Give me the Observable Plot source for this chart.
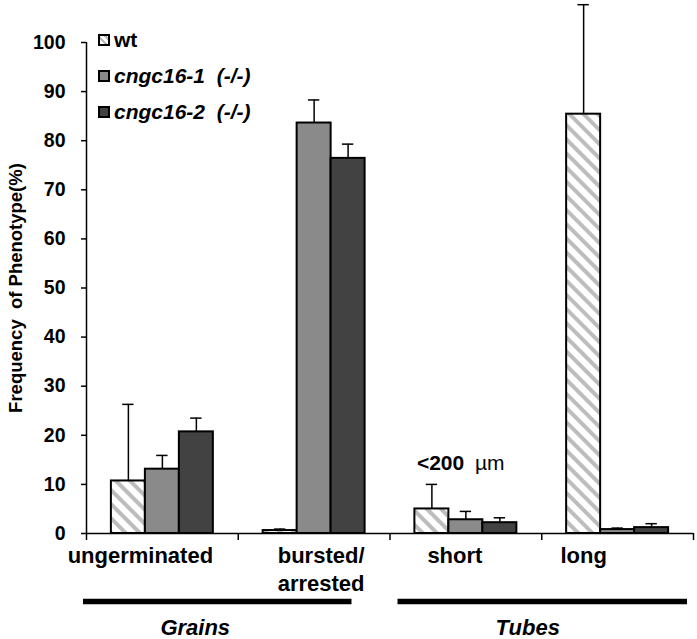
<!DOCTYPE html>
<html><head><meta charset="utf-8">
<script src="https://cdn.jsdelivr.net/npm/d3@7"></script>
<script src="https://cdn.jsdelivr.net/npm/@observablehq/plot@0.6"></script>
<style>
body{margin:0;background:#fff;}
#wrap{position:relative;width:697px;height:639px;font-family:"Liberation Sans",Arial,sans-serif;}
#legend{position:absolute;left:98px;top:22px;}
.row{display:flex;align-items:center;height:36px;font-weight:bold;font-size:21px;color:#000;white-space:pre;}
.sw{width:12px;height:12px;border:2px solid #000;box-sizing:border-box;margin-right:4px;}
</style></head><body><div id="wrap"><div id="legend"></div></div>
<script>
// ---- data ----
const categories = ["ungerminated", "bursted/\narrested", "short", "long"];
const genotypes = ["wt", "cngc16-1", "cngc16-2"];
const genotypeSuffix = ["", "  (-/-)", "  (-/-)"];
const wtValues = [10.7, 0.6, 5.0, 85.4];
const wtErrors = [15.6, 0.3, 5.0, 22.3];
const cngc161Values = [13.1, 83.6, 2.8, 0.8];
const cngc161Errors = [2.8, 4.7, 1.7, 0.3];
const cngc162Values = [20.7, 76.4, 2.2, 1.2];
const cngc162Errors = [2.8, 2.9, 1.0, 0.8];
const yTicks = [0, 10, 20, 30, 40, 50, 60, 70, 80, 90, 100];
const yTitle = "Frequency\u00a0 of Phenotype(%)";
const groups = ["Grains", "Tubes"];
const groupFirst = [0, 2];
const groupLast = [1, 3];
const annotationBold = "<200";
const annotationUnit = "µm";

// ---- styles / layout ----
const fills = ["url(#wtHatch)", "#8a8a8a", "#424242"];
const barW = 0.224;   // bar width in category units
const capW = 0.075;
const labelDx = [-22, 7, -11, -34];
const groupInsetL = [-3, 8];
const groupInsetR = [38, 6];
const groupDx = [-43, -14];
const font = "Liberation Sans, Arial, sans-serif";

const valueSeries = [wtValues, cngc161Values, cngc162Values];
const errorSeries = [wtErrors, cngc161Errors, cngc162Errors];
const rows = [];
categories.forEach((c, i) => genotypes.forEach((g, j) => {
  const center = i + (j - 1) * barW;
  rows.push({cat: i, g: j, center, x1: center - barW / 2, x2: center + barW / 2,
    value: valueSeries[j][i], top: valueSeries[j][i] + errorSeries[j][i]});
}));

const defs = () => {
  const d = d3.create("svg:defs");
  const p = d.append("pattern").attr("id", "wtHatch").attr("patternUnits", "userSpaceOnUse")
    .attr("width", 10).attr("height", 10).attr("patternTransform", "rotate(-45)");
  p.append("rect").attr("width", 10).attr("height", 10).attr("fill", "#fff");
  p.append("rect").attr("width", 4).attr("height", 10).attr("fill", "#bdbdbd");
  return d.node();
};

const shortWt = rows.filter(r => r.cat === 2 && r.g === 0);

const plot = Plot.plot({
  width: 697, height: 639,
  marginLeft: 86, marginRight: 4, marginTop: 42, marginBottom: 106,
  style: {fontFamily: font, background: "#fff", overflow: "visible", color: "#000"},
  x: {domain: [-0.5, categories.length - 0.5], axis: null},
  y: {domain: [0, 100], axis: null},
  marks: [
    defs,
    Plot.axisY({ticks: yTicks, tickSize: 5, tickPadding: 16, fontSize: 19.5, fontWeight: "bold", label: null, strokeWidth: 1.5}),
    Plot.text([yTitle], {frameAnchor: "left", textAnchor: "middle", rotate: -90, dx: -70, fontSize: 18.5, fontWeight: "bold"}),
    Plot.axisX({ticks: d3.range(categories.length + 1).map(i => i - 0.5), tickSize: 7, tickFormat: () => "", strokeWidth: 1.5, label: null}),
    ...genotypes.map((g, j) => Plot.rectY(rows.filter(r => r.g === j), {
      x1: "x1", x2: "x2", y1: 0, y2: "value", fill: fills[j], stroke: "#000", strokeWidth: 2
    })),
    Plot.ruleX(rows, {x: "center", y1: "value", y2: "top", strokeWidth: 1.5}),
    Plot.ruleY(rows, {y: "top", x1: d => d.center - capW / 2, x2: d => d.center + capW / 2, strokeWidth: 1.5}),
    Plot.ruleY([0], {strokeWidth: 1.5}),
    Plot.ruleX([-0.5], {y1: 0, y2: 100, strokeWidth: 1.5}),
    ...categories.map((c, i) => Plot.text([c], {
      x: () => i, y: () => 0, dx: labelDx[i], dy: 9, lineAnchor: "top", lineHeight: 1.3,
      fontSize: 22, fontWeight: "bold"
    })),
    ...groups.map((g, k) => Plot.ruleY([g], {
      y: () => 0, x1: () => groupFirst[k] - 0.5, x2: () => groupLast[k] + 0.5,
      insetLeft: groupInsetL[k], insetRight: groupInsetR[k], dy: 68, strokeWidth: 5.5
    })),
    ...groups.map((g, k) => Plot.text([g], {
      x: () => (groupFirst[k] + groupLast[k]) / 2, y: () => 0, dx: groupDx[k], dy: 94,
      fontSize: 22, fontWeight: "bold", fontStyle: "italic"
    })),
    Plot.text(shortWt, {x: "x1", y: "top", text: () => annotationBold, dx: 2, dy: -21, textAnchor: "start", fontSize: 21, fontWeight: "bold"}),
    Plot.text(shortWt, {x: "x1", y: "top", text: () => annotationUnit, dx: 60, dy: -21, textAnchor: "start", fontSize: 21})
  ]
});
document.getElementById("wrap").prepend(plot);

// legend
const legend = d3.select("#legend");
const swatchBg = [
  "repeating-linear-gradient(45deg,#fff 0 3px,#bdbdbd 3px 5px)",
  fills[1], fills[2]
];
genotypes.forEach((g, j) => {
  const row = legend.append("div").attr("class", "row");
  row.append("div").attr("class", "sw").style("background", swatchBg[j]);
  row.append("span").style("font-style", j === 0 ? "normal" : "italic").text(g + genotypeSuffix[j]);
});
</script></body></html>
